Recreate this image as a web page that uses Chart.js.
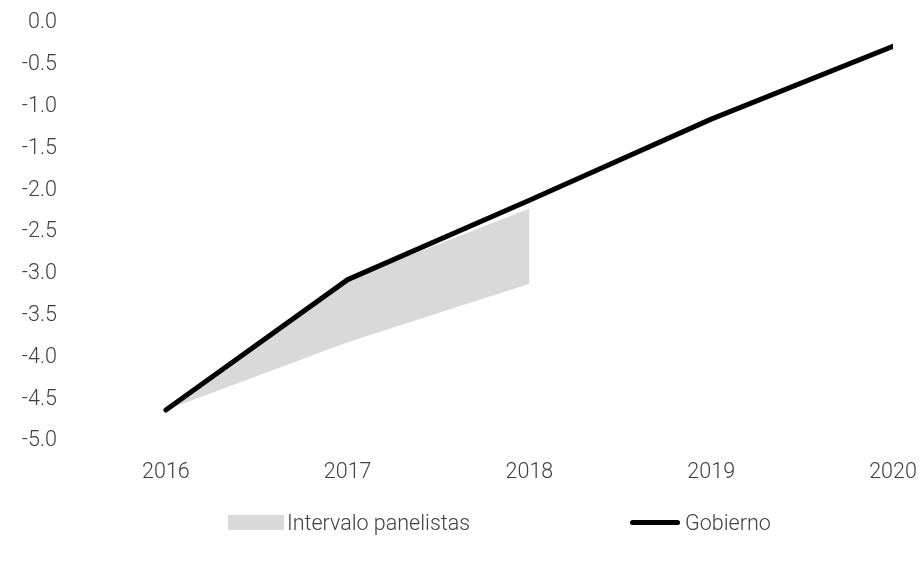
<!DOCTYPE html>
<html>
<head>
<meta charset="utf-8">
<script src="https://cdn.jsdelivr.net/npm/chart.js@4/dist/chart.umd.min.js"></script>
<style>
  html, body { margin: 0; padding: 0; background: #ffffff; }
  #wrap { position: relative; width: 924px; height: 561px; }
  #chart { position: absolute; left: 0; top: 0; }
  #legend {
    position: absolute; left: 0; top: 508px; width: 924px; height: 28px;
    font-family: Roboto, 'Liberation Sans', sans-serif; font-weight: 300;
    font-size: 21.5px; color: #404040;
  }
  .item { position: absolute; top: 0; height: 28px; display: flex; align-items: center; white-space: nowrap; }
  .swatch-box { width: 56px; height: 15px; margin-right: 3px; }
  .swatch-line { width: 50px; height: 5px; border-radius: 3px; margin-right: 5px; }
</style>
</head>
<body>
<div id="wrap">
  <canvas id="chart" width="924" height="561"></canvas>
  <div id="legend"></div>
</div>
<script>
// Years on the horizontal axis
const years = [2016, 2017, 2018, 2019, 2020];
// Government path (% of GDP)
const gobierno = [-4.63, -3.07, -2.12, -1.15, -0.28];
// Panelists' range: upper and lower bounds (only through 2018)
const panelUpper = [-4.63, -3.07, -2.22, null, null];
const panelLower = [-4.63, -3.82, -3.12, null, null];
// Vertical axis ticks
const yTicks = [0, -0.5, -1, -1.5, -2, -2.5, -3, -3.5, -4, -4.5, -5];

const seriesNames = ['Intervalo panelistas', 'Gobierno'];

const textColor = '#404040';
const bandColor = '#d9d9d9';
const fontFamily = "Roboto, 'Liberation Sans', sans-serif";
const tickFont = { family: fontFamily, size: 21.5, weight: 300 };

const toPoints = (vals) => years.map((y, i) => ({ x: y, y: vals[i] }));

const chart = new Chart(document.getElementById('chart'), {
  type: 'line',
  data: {
    datasets: [
      {
        label: seriesNames[1],
        data: toPoints(gobierno),
        borderColor: '#000000',
        borderWidth: 5,
        borderCapStyle: 'round',
        borderJoinStyle: 'round',
        pointRadius: 0,
        fill: false,
        order: 0
      },
      {
        label: seriesNames[0],
        data: toPoints(panelUpper),
        borderWidth: 0,
        borderColor: 'rgba(0,0,0,0)',
        backgroundColor: bandColor,
        pointRadius: 0,
        fill: '+1',
        order: 1
      },
      {
        label: 'lower',
        data: toPoints(panelLower),
        borderWidth: 0,
        borderColor: 'rgba(0,0,0,0)',
        pointRadius: 0,
        fill: false,
        order: 2
      }
    ]
  },
  options: {
    responsive: false,
    animation: false,
    layout: { padding: { top: 23, right: 31, left: 0, bottom: 60 } },
    scales: {
      x: {
        type: 'linear',
        min: 2015.5,
        max: 2020,
        grid: { display: false, drawTicks: false },
        border: { display: false },
        afterBuildTicks(scale) {
          scale.ticks = years.map(v => ({ value: v }));
        },
        afterFit(scale) {
          scale.height = 60;
          scale.paddingLeft = 0;
          scale.paddingRight = 0;
        },
        ticks: {
          color: textColor,
          font: tickFont,
          padding: 19,
          maxRotation: 0,
          autoSkip: false,
          callback: (v) => String(v)
        }
      },
      y: {
        min: -5,
        max: 0,
        grid: { display: false, drawTicks: false },
        border: { display: false },
        afterBuildTicks(scale) {
          scale.ticks = yTicks.map(v => ({ value: v }));
        },
        afterFit(scale) {
          scale.width = 75;
          scale.paddingTop = 0;
          scale.paddingBottom = 0;
        },
        ticks: {
          color: textColor,
          font: tickFont,
          padding: 18,
          callback: (v) => Number(v).toFixed(1)
        }
      }
    },
    plugins: {
      tooltip: { enabled: false },
      legend: { display: false }
    }
  }
});

// HTML legend built from the chart's own datasets
(function buildLegend() {
  const legend = document.getElementById('legend');
  const band = chart.data.datasets[1];
  const line = chart.data.datasets[0];
  const entries = [
    { text: band.label, cls: 'swatch-box', color: band.backgroundColor, left: 228 },
    { text: line.label, cls: 'swatch-line', color: line.borderColor, left: 630 }
  ];
  entries.forEach(e => {
    const item = document.createElement('div');
    item.className = 'item';
    item.style.left = e.left + 'px';
    const sw = document.createElement('span');
    sw.className = e.cls;
    sw.style.background = e.color;
    const label = document.createElement('span');
    label.textContent = e.text;
    item.appendChild(sw);
    item.appendChild(label);
    legend.appendChild(item);
  });
})();
</script>
</body>
</html>
